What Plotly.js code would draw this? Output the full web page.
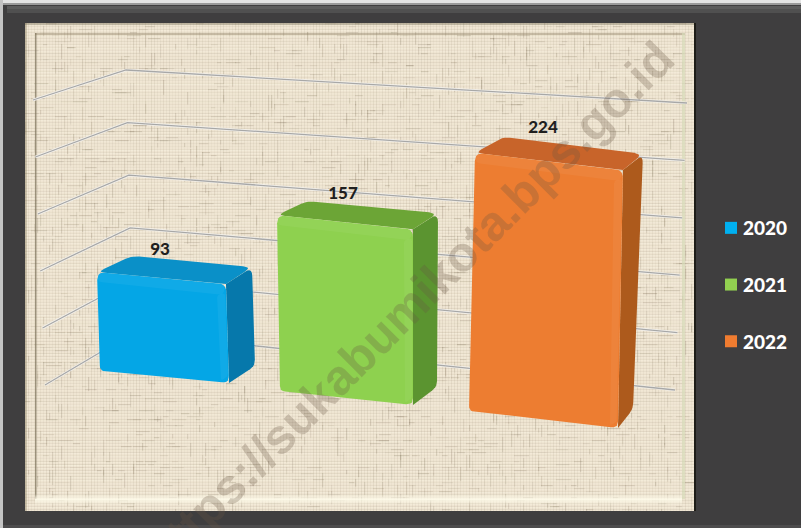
<!DOCTYPE html>
<html>
<head>
<meta charset="utf-8">
<script src="https://cdn.plot.ly/plotly-3.0.1.min.js"></script>
<style>html,body{margin:0;padding:0;background:#3f3e3f;overflow:hidden}#c{width:801px;height:528px}</style>
</head>
<body>
<div id="c"></div>
<script>
// ---- data ----
var years = ['2020', '2021', '2022'];
var values = [93, 157, 224];
var gridValues = [0, 50, 100, 150, 200, 250];
var watermark = 'https://sukabumikota.bps.go.id';

// ---- styles ----
var frontColors = ['#04a6e6', '#8ed14f', '#ed7d31'];
var topColors   = ['#0a90c8', '#6ca536', '#c8642a'];
var sideColors  = ['#0678ab', '#5b9430', '#ad5a1c'];
var legendColors = ['#00b0f0', '#92d050', '#f07c30'];

// ---- oblique projection of each column onto the picture plane ----
var geom = [
  {bl:[100,371], br:[229,383], k:1.065, leanL:-3, leanR:-3, backB:[26,-17], backTR:[26,-17], backTL:[35,-16], lab:[160,251]},
  {bl:[280,391], br:[413,405], k:1.12,  leanL:-3, leanR:0,  backB:[24,-18], backTR:[25,-16], backTL:[30,-14], lab:[343,195]},
  {bl:[469,411], br:[618,428], k:1.152, leanL:6,  leanR:5,  backB:[15,-19], backTR:[20,-16], backTL:[28,-16], lab:[543,129]}
];

function rounded(pts, r) {
  var xs = [], ys = [], n = pts.length;
  for (var i = 0; i < n; i++) {
    var p = pts[i], a = pts[(i + n - 1) % n], b = pts[(i + 1) % n];
    var ra = Array.isArray(r) ? r[i] : r;
    var la = Math.hypot(a[0]-p[0], a[1]-p[1]), lb = Math.hypot(b[0]-p[0], b[1]-p[1]);
    var rr = Math.min(ra, la/2, lb/2);
    var s = [p[0]+(a[0]-p[0])*rr/la, p[1]+(a[1]-p[1])*rr/la];
    var e = [p[0]+(b[0]-p[0])*rr/lb, p[1]+(b[1]-p[1])*rr/lb];
    for (var t = 0; t <= 1.001; t += 0.2) {
      xs.push((1-t)*(1-t)*s[0]+2*t*(1-t)*p[0]+t*t*e[0]);
      ys.push((1-t)*(1-t)*s[1]+2*t*(1-t)*p[1]+t*t*e[1]);
    }
  }
  xs.push(xs[0]); ys.push(ys[0]);
  return {x: xs, y: ys};
}
function face(poly, color) {
  return {x: poly.x, y: poly.y, mode: 'lines', fill: 'toself', fillcolor: color,
          line: {width: 0, color: color}, hoverinfo: 'skip', showlegend: false};
}

var traces = [];

// gridlines: floor-to-wall perspective lines, one per axis value
var gx = [], gy = [];
gridValues.forEach(function (v) {
  gx.push(45 - v*0.048, 133 - v*0.028, 675 + v*0.048, null);
  gy.push(385 - v*1.14, 333 - v*1.052, 390 - v*1.148, null);
});
traces.push({x: gx, y: gy, mode: 'lines', line: {color: '#f4f2ee', width: 2.6}, hoverinfo: 'skip', showlegend: false});
traces.push({x: gx, y: gy, mode: 'lines', line: {color: '#a8a8a7', width: 1.3}, hoverinfo: 'skip', showlegend: false});

// columns
values.forEach(function (v, i) {
  var g = geom[i], h = v * g.k;
  var ftl = [g.bl[0]+g.leanL, g.bl[1]-h], ftr = [g.br[0]+g.leanR, g.br[1]-h];
  var bbr = [g.br[0]+g.backB[0], g.br[1]+g.backB[1]];
  var btr = [ftr[0]+g.backTR[0], ftr[1]+g.backTR[1]];
  var btl = [ftl[0]+g.backTL[0], ftl[1]+g.backTL[1]];
  traces.push(face(rounded([ftr, btr, bbr, g.br], [0,9,6,0]), sideColors[i]));
  traces.push(face(rounded([ftl, btl, btr, ftr], [8,7,9,0]), topColors[i]));
  traces.push(face(rounded([ftl, ftr, g.br, g.bl], [8,8,7,5]), frontColors[i]));
  // soft bevels on the front face
  traces.push(face(rounded([ftl, ftr, [ftr[0]-3,ftr[1]+11], [ftl[0]+1,ftl[1]+10]], [7,7,4,4]), 'rgba(255,255,255,0.05)'));
  traces.push(face(rounded([[ftr[0]-9,ftr[1]+11], [ftr[0]-1,ftr[1]+9], [g.br[0]-1,g.br[1]-7], [g.br[0]-8,g.br[1]-2]], 3), 'rgba(255,255,255,0.05)'));
});

// value labels
traces.push({
  x: geom.map(function (g) { return g.lab[0]; }),
  y: geom.map(function (g) { return g.lab[1]; }),
  mode: 'text',
  text: values.map(String),
  textposition: 'middle center',
  textfont: {family: 'Lato, "Open Sans", sans-serif', size: 17, color: '#1f1f1f', weight: 900},
  hoverinfo: 'skip', showlegend: false
});

// legend entries
years.forEach(function (yr, i) {
  traces.push({x: [null], y: [null], name: yr, legendgroup: yr, mode: 'markers',
    marker: {symbol: 'square', size: 12, color: legendColors[i], line: {width: 0}}});
});

// ---- linen panel texture, generated deterministically ----
function linen() {
  var W = 669, H = 488, raw = document.createElement('canvas');
  raw.width = W; raw.height = H;
  var c = raw.getContext('2d');
  c.fillStyle = '#efe5d2'; c.fillRect(0, 0, W, H);
  function hash(n) { var s = Math.sin(n * 12.9898) * 43758.5453; return s - Math.floor(s); }
  var x, y, i;
  for (y = 0; y < H; y += 3) {
    c.fillStyle = 'rgba(120,105,80,' + (hash(y)*0.08+0.03) + ')'; c.fillRect(0, y, W, 1);
    c.fillStyle = 'rgba(255,250,235,' + (hash(y+500)*0.3) + ')'; c.fillRect(0, y+1, W, 1);
  }
  for (x = 0; x < W; x += 3) {
    c.fillStyle = 'rgba(120,105,80,' + (hash(x+1000)*0.08+0.03) + ')'; c.fillRect(x, 0, 1, H);
  }
  for (i = 0; i < 2600; i++) {
    var sx = Math.floor(hash(i+2000)*W), sy = Math.floor(hash(i+3000)*H), len = 4+hash(i+4000)*12;
    c.fillStyle = 'rgba(110,95,70,' + (0.05+hash(i+5000)*0.13) + ')';
    if (i % 2) c.fillRect(sx - sx%3, sy - sy%3, 1.2, len);
    else c.fillRect(sx - sx%3, sy - sy%3, len, 1.2);
  }
  var cv = document.createElement('canvas');
  cv.width = W; cv.height = H;
  c = cv.getContext('2d');
  c.filter = 'blur(0.5px)';
  c.drawImage(raw, 0, 0);
  c.filter = 'none';
  // inner bevel of the panel
  c.fillStyle = 'rgba(120,110,85,0.7)'; c.fillRect(10, 10, 1.5, 466);
  c.fillStyle = 'rgba(135,120,90,0.4)'; c.fillRect(10, 10, 650, 2);
  c.fillStyle = 'rgba(100,95,70,0.35)'; c.fillRect(0, 0, W, 2);
  c.fillStyle = 'rgba(110,100,70,0.28)'; c.fillRect(0, 0, 2, H);
  c.fillStyle = 'rgba(215,220,185,0.7)'; c.fillRect(W-12, 10, 3, 466);
  var g = c.createLinearGradient(0, H-17, 0, H-6);
  g.addColorStop(0, 'rgba(255,252,235,0)'); g.addColorStop(0.5, 'rgba(255,252,235,0.85)'); g.addColorStop(1, 'rgba(255,252,235,0)');
  c.fillStyle = g; c.fillRect(10, H-17, W-22, 11);
  return cv.toDataURL('image/png');
}

function px(x0, y0, x1, y1, color) {
  return {type: 'rect', xref: 'x', yref: 'y', x0: x0, y0: y0, x1: x1, y1: y1, fillcolor: color, line: {width: 0}, layer: 'below'};
}

var layout = {
  width: 801, height: 528,
  margin: {l: 0, r: 0, t: 0, b: 0, autoexpand: false},
  paper_bgcolor: '#3f3e3f',
  plot_bgcolor: 'rgba(0,0,0,0)',
  xaxis: {range: [0, 801], visible: false, fixedrange: true},
  yaxis: {range: [528, 0], visible: false, fixedrange: true},
  showlegend: true,
  legend: {x: 703/801, xanchor: 'left', y: 1 - 209/528, yanchor: 'top',
           font: {family: 'Lato, "Open Sans", sans-serif', size: 19, color: '#ffffff', weight: 900},
           bgcolor: 'rgba(0,0,0,0)', tracegroupgap: 29, itemclick: false, itemdoubleclick: false},
  images: [{source: linen(), xref: 'x', yref: 'y', x: 25, y: 23, sizex: 669, sizey: 488,
            xanchor: 'left', yanchor: 'top', sizing: 'stretch', layer: 'below'}],
  shapes: [
    px(0, 0, 801, 3, '#e4e4e4'),
    px(0, 3, 801, 5, '#9a9a9a'),
    px(0, 0, 3, 528, '#c4c4c4'),
    px(7, 6, 801, 9, '#5c5c5c'),
    px(7, 9, 801, 13, '#505050'),
    px(694, 23, 696, 511, '#1e1d18'),
    px(3, 525, 801, 528, '#4d4c4d')
  ],
  annotations: [{
    text: watermark, xref: 'x', yref: 'y', x: 409, y: 306, showarrow: false, textangle: -45,
    font: {family: '"Liberation Sans", Arial, sans-serif', size: 49, color: 'rgba(105,85,65,0.27)', weight: 700}
  }]
};

Plotly.newPlot('c', traces, layout, {staticPlot: true, displayModeBar: false}).then(function (gd) {
  gd.querySelectorAll('.legendsymbols').forEach(function (n) { n.setAttribute('transform', 'translate(8,0)'); });
});
</script>
</body>
</html>
